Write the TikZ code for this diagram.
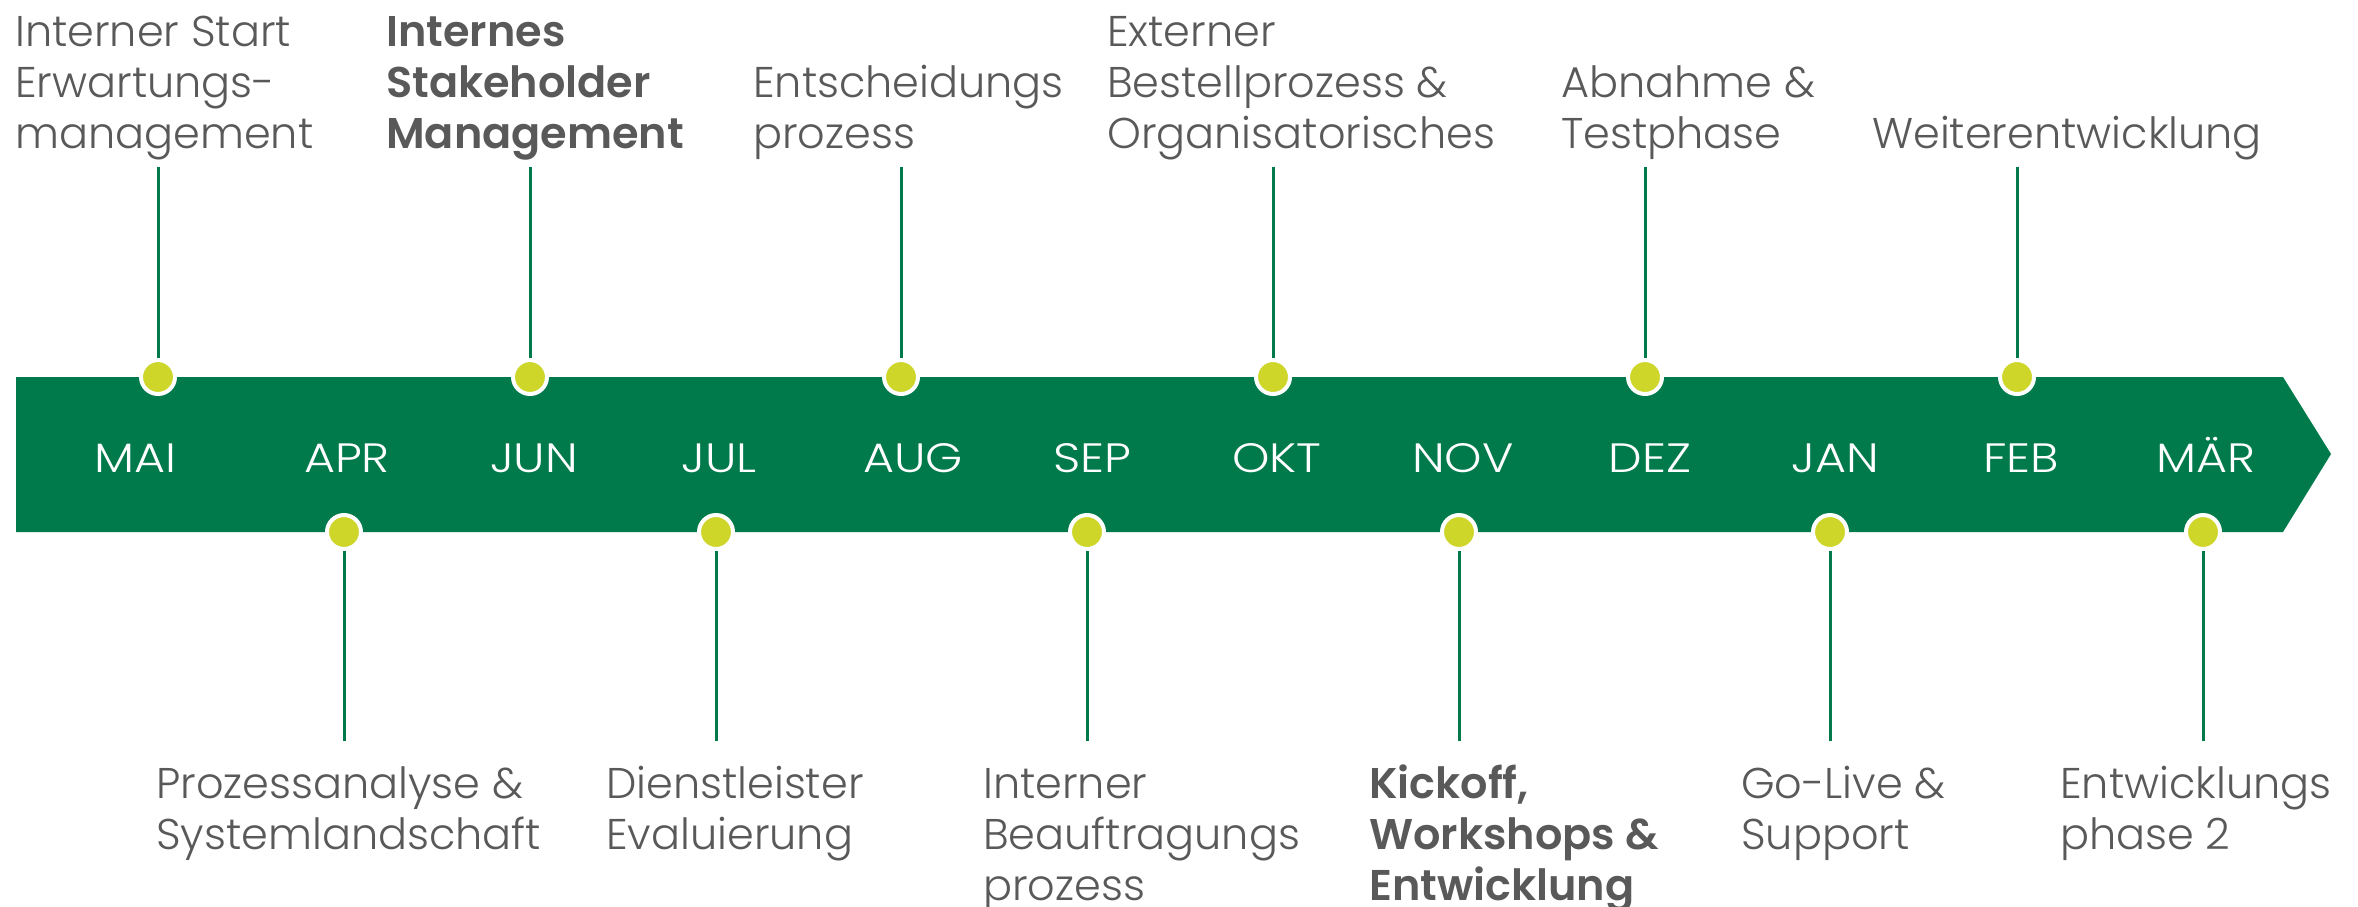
\documentclass[tikz,border=0pt]{standalone}
\usepackage{fontspec}
\setmainfont{Poppins}[UprightFont=* Light]
\newfontfamily\monthfont{Poppins}[UprightFont=* Light, FakeStretch=1.16]
\definecolor{tlgreen}{RGB}{0,122,75}
\definecolor{tldot}{RGB}{205,214,41}
\definecolor{tltext}{RGB}{89,89,89}
\tikzset{
  band/.style={fill=tlgreen, draw=none},
  milestone/.style={circle, fill=tldot, draw=white, line width=4pt, minimum size=34pt, inner sep=0pt},
  stem/.style={draw=tlgreen, line width=3pt},
  month/.style={text=white, font=\monthfont\fontsize{41}{49}\selectfont, anchor=base, inner sep=0pt},
  phase/.style={text=tltext, font=\fontsize{43}{51}\selectfont, align=left, anchor=base west, inner sep=0pt},
  keyphase/.style={phase, font=\fontsize{43}{51}\selectfont\bfseries},
}
\begin{document}
\begin{tikzpicture}[x=1pt,y=-1pt]
\useasboundingbox (0,0) rectangle (2358,906);
% band
\path[band] (16,377) -- (2283,377) -- (2331,454) -- (2283,532) -- (16,532) -- cycle;
% months
\node[month] (mMAI) at (135,472) {MAI};
\node[month] (mAPR) at (347,472) {APR};
\node[month] (mJUN) at (534,472) {JUN};
\node[month] (mJUL) at (719,472) {JUL};
\node[month] (mAUG) at (913,472) {AUG};
\node[month] (mSEP) at (1092,472) {SEP};
\node[month] (mOKT) at (1277,472) {OKT};
\node[month] (mNOV) at (1463,472) {NOV};
\node[month] (mDEZ) at (1650,472) {DEZ};
\node[month] (mJAN) at (1835,472) {JAN};
\node[month] (mFEB) at (2021,472) {FEB};
\node[month] (mMAR) at (2206,472) {MÄR};
% dots
\node[milestone] (d1) at (158,377) {};
\node[milestone] (d2) at (344,532) {};
\node[milestone] (d3) at (530,377) {};
\node[milestone] (d4) at (716,532) {};
\node[milestone] (d5) at (901,377) {};
\node[milestone] (d6) at (1087,532) {};
\node[milestone] (d7) at (1273,377) {};
\node[milestone] (d8) at (1459,532) {};
\node[milestone] (d9) at (1645,377) {};
\node[milestone] (d10) at (1830,532) {};
\node[milestone] (d11) at (2017,377) {};
\node[milestone] (d12) at (2203,532) {};
% stem ends
\coordinate (e1) at (158,167);
\coordinate (e2) at (344,741);
\coordinate (e3) at (530,167);
\coordinate (e4) at (716,741);
\coordinate (e5) at (901,167);
\coordinate (e6) at (1087,741);
\coordinate (e7) at (1273,167);
\coordinate (e8) at (1459,741);
\coordinate (e9) at (1645,167);
\coordinate (e10) at (1830,741);
\coordinate (e11) at (2017,167);
\coordinate (e12) at (2203,741);
\foreach \i in {1,...,12} { \draw[stem] (e\i) -- (d\i); }
% labels top (base = last line)
\node[phase] (l1) at (15,148) {Interner Start\\Erwartungs-\\management};
\node[keyphase] (l3) at (386,148) {Internes\\Stakeholder\\Management};
\node[phase] (l5) at (753,148) {Entscheidungs\\prozess};
\node[phase] (l7) at (1107,148) {Externer\\Bestellprozess \&\\Organisatorisches};
\node[phase] (l9) at (1561,148) {Abnahme \&\\Testphase};
\node[phase] (l11) at (1872,148) {Weiterentwicklung};
% labels bottom
\node[phase] (l2) at (156,849) {Prozessanalyse \&\\Systemlandschaft};
\node[phase] (l4) at (606,849) {Dienstleister\\Evaluierung};
\node[phase] (l6) at (983,900) {Interner\\Beauftragungs\\prozess};
\node[keyphase] (l8) at (1369,900) {Kickoff,\\Workshops \&\\Entwicklung};
\node[phase] (l10) at (1741,849) {Go-Live \&\\Support};
\node[phase] (l12) at (2060,849) {Entwicklungs\\phase 2};
\end{tikzpicture}
\end{document}
